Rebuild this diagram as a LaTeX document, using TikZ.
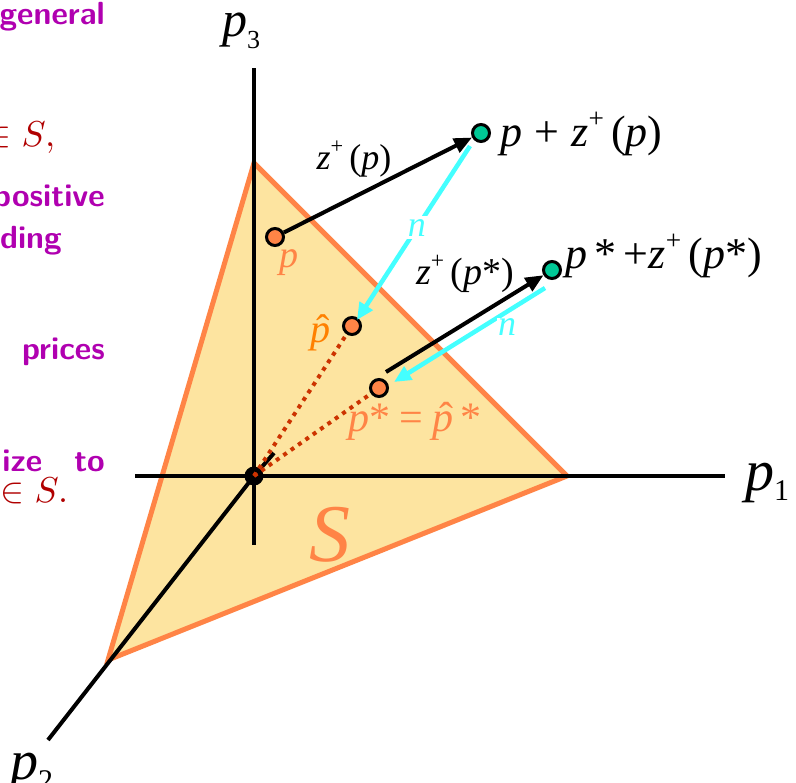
\documentclass[tikz,border=0pt]{standalone}
\usepackage{fontspec}
\usepackage{graphicx}
\newfontfamily\tms{Liberation Serif}
\usetikzlibrary{arrows.meta}
\definecolor{trifill}{HTML}{FDE4A0}
\definecolor{triedge}{HTML}{FF8446}
\definecolor{cyanA}{HTML}{44FFFF}
\definecolor{dotg}{HTML}{00C896}
\definecolor{dotred}{HTML}{CC3300}
\definecolor{purp}{HTML}{B000B0}
\definecolor{dred}{HTML}{B00000}
\definecolor{orlab}{HTML}{FF8446}
\definecolor{orhat}{HTML}{FF8000}
\newcommand{\fs}[1]{\fontsize{#1}{#1}\selectfont}
\newcommand{\tsp}[1]{\raisebox{0.42em}{\scalebox{0.62}{#1}}}
\newcommand{\ip}{{\itshape p}}
\newcommand{\iz}{{\itshape z}}
\newcommand{\hp}{{\ooalign{\itshape p\cr\hidewidth\kern0.16em{\upshape\symbol{"02C6}}\hidewidth\cr}}}
\tikzset{
  axis/.style={line width=4pt, black},
  dotp/.style={circle, draw=black, line width=3pt, minimum size=17pt, inner sep=0pt, fill=triedge},
  dotz/.style={circle, draw=black, line width=3pt, minimum size=17pt, inner sep=0pt, fill=dotg},
  blkarr/.style={line width=4pt, black, -{Triangle[length=18pt,width=15pt]}},
  cyarr/.style={line width=4.5pt, cyanA, -{Triangle[length=17pt,width=15pt]}},
  nlab/.style={fill=white, inner sep=3pt, text=cyanA, font=\tms\itshape\fs{36}},
  dotline/.style={line width=4pt, dotred, dash pattern=on 4pt off 5pt},
  lefttxt/.style={text=purp, font=\sffamily\bfseries\fs{32}, inner sep=0pt},
  redtxt/.style={text=dred, font=\fs{10}, inner sep=0pt},
  axlab/.style={inner sep=0pt, font=\tms},
}
\begin{document}
\begin{tikzpicture}[x=1pt,y=-1pt]
\useasboundingbox (0,0) rectangle (796,783);
% left, cut-off slide text
\node[lefttxt, anchor=base east] (t1) at (105,25) {general};
\node[redtxt, anchor=base east] (t2) at (56,147) {\scalebox{3.6}{$\in S$,}};
\node[lefttxt, anchor=base east] (t3) at (105,207) {positive};
\node[lefttxt, anchor=base east] (t4) at (62,249) {ding};
\node[lefttxt, anchor=base east] (t5) at (105,360) {prices};
\node[lefttxt, anchor=base east] (t6) at (105,472) {ize\hspace{32pt}to};
\node[redtxt, anchor=base east] (t7) at (69,503) {\scalebox{3.6}{$\in S$.}};
% triangle S
\draw[fill=trifill, draw=triedge, line width=5pt, line join=miter] (254,163) -- (567,476) -- (108,660) -- cycle;
\node[text=triedge, font=\tms\itshape\fs{82}, inner sep=0pt] (S) at (330,535) {S};
% axes
\coordinate (O) at (254,476);
\coordinate (a3) at (254,68);
\coordinate (a3b) at (254,545);
\coordinate (a1a) at (135,476);
\coordinate (a1) at (725,476);
\coordinate (a2) at (48,740);
\draw[axis] (a3b) -- (a3);
\draw[axis] (a1a) -- (a1);
\draw[axis] (O) -- (a2);
\node[axlab, anchor=base west] (l3) at (222,37) {\fs{50}\ip\raisebox{-0.24em}{\fs{26}3}};
\node[axlab, anchor=base west] (l1) at (745,491) {\fs{58}\ip\raisebox{-0.16em}{\fs{30}1}};
\node[axlab, anchor=base west] (l2) at (10,779) {\fs{56}\ip\raisebox{-0.2em}{\fs{30}2}};
% origin
\node[circle, fill=black, minimum size=19pt, inner sep=0pt] (Om) at (O) {};
\coordinate (ob) at (274,453);
\draw[line width=4pt, black] (O) -- (ob);
% points
\node[dotp] (p) at (275,237) {};
\node[dotz] (pz) at (481,133) {};
\node[dotp] (ph) at (352,326) {};
\node[dotp] (ps) at (379,388) {};
\node[dotz] (psz) at (552,270) {};
% dotted rays
\draw[dotline] (O) -- (ph);
\draw[dotline] (O) -- (ps);
% arrows
\draw[blkarr] (p) -- (pz);
\coordinate (b2s) at (386,372);
\draw[blkarr] (b2s) -- (psz);
\coordinate (c1s) at (470,146);
\coordinate (c1e) at (357,320);
\draw[cyarr] (c1s) -- node[nlab, pos=0.47] (n1) {n} (c1e);
\coordinate (c2s) at (545,288);
\coordinate (c2e) at (394,382);
\draw[cyarr] (c2s) -- (c2e);
\node[nlab, inner sep=1pt] (n2) at (507,327) {n};
% labels
\node[font=\tms\fs{36}, inner sep=0pt] (lz1) at (354,159) {\iz\tsp{+}\,(\ip)};
\node[font=\tms\fs{44}, inner sep=0pt, anchor=west] (lpz) at (500,134) {\ip\;+\;\iz\tsp{+}\,(\ip)};
\node[font=\tms\fs{38}, inner sep=0pt] (lz2) at (465,274) {\iz\tsp{+}\,(\ip*)};
\node[font=\tms\fs{44}, inner sep=0pt, anchor=west] (lpsz) at (565,256) {\ip\,*\,+\iz\tsp{+}\,(\ip*)};
\node[text=orlab, font=\tms\itshape\fs{38}, inner sep=0pt] (lp) at (289,263) {p};
\node[text=orhat, font=\tms\fs{40}, inner sep=0pt] (lph) at (320,333) {\hp};
\node[text=orlab, font=\tms\fs{42}, inner sep=0pt] (lps) at (415,422) {\ip*\:=\:\hp\,*};
\end{tikzpicture}
\end{document}
